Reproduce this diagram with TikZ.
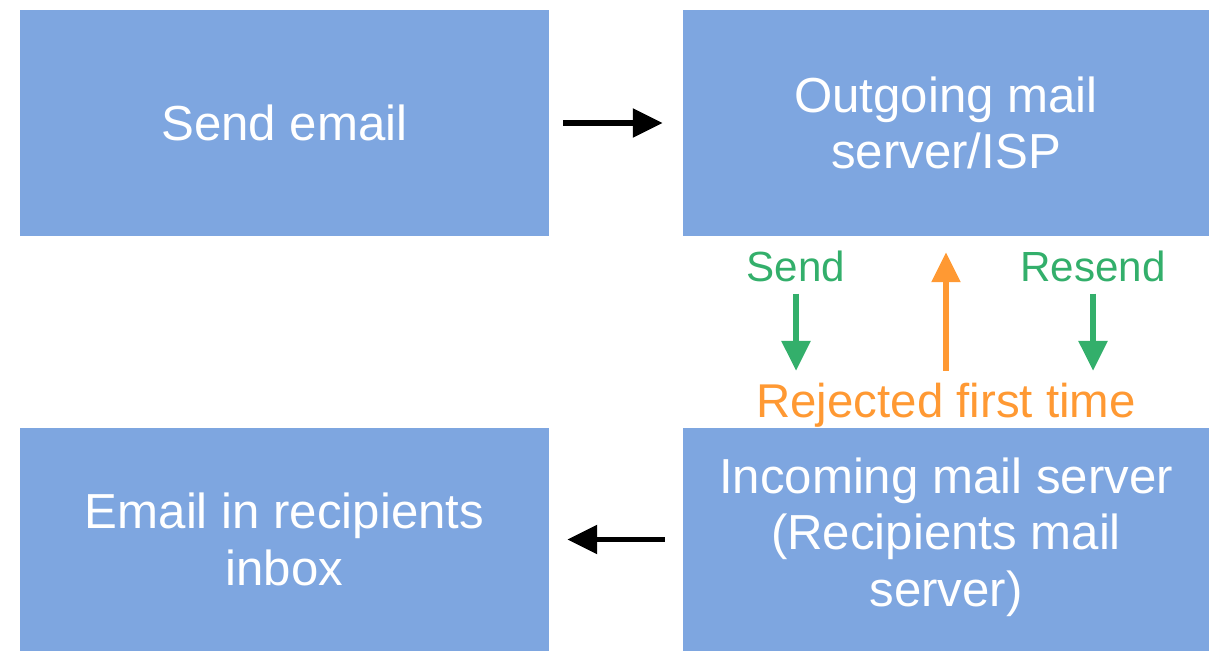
\documentclass[tikz,border=0pt]{standalone}
\usepackage{fontspec}
\setmainfont{Liberation Sans}
\usetikzlibrary{arrows.meta}

\definecolor{boxblue}{HTML}{7EA6E0}
\definecolor{sendgreen}{HTML}{33AF6B}
\definecolor{rejorange}{HTML}{FF9933}

\begin{document}
\begin{tikzpicture}[x=0.02cm, y=-0.02cm,
  box/.style={fill=boxblue, draw=none, text=white, align=center, inner sep=0pt,
    font=\fontsize{28}{32}\selectfont},
  lbl/.style={font=\fontsize{24}{28}\selectfont, inner sep=1pt},
  flow/.style={line width=3pt, -{Triangle[width=16pt,length=17pt]}}]

\useasboundingbox (0,0) rectangle (1209,651);

\node[box, minimum width=10.58cm, minimum height=4.52cm] (send) at (284.5,123) {Send email};
\node[box, minimum width=10.52cm, minimum height=4.52cm] (outgoing) at (946,123) {Outgoing mail\\server/ISP};
\node[box, minimum width=10.58cm, minimum height=4.46cm] (inbox) at (284.5,539.5) {Email in recipients\\inbox};
\node[box, minimum width=10.52cm, minimum height=4.46cm, text depth=0.3cm] (incoming) at (946,539.5) {Incoming mail server\\(Recipients mail\\server)};

\node[lbl, text=sendgreen] (sendlbl) at (796,266) {Send};
\node[lbl, text=sendgreen] (resendlbl) at (1093,266) {Resend};
\node[lbl, text=rejorange, font=\fontsize{27}{30}\selectfont] (rejected) at (946,405) {Rejected first time};

% -------- arrows -----------
\draw[flow, shorten <=0.28cm, shorten >=0.4cm] (send.east) -- (outgoing.west);
\draw[flow, shorten <=0.36cm, shorten >=0.36cm] (incoming.west) -- (inbox.east);

\draw[flow, sendgreen, shorten <=0.2cm, shorten >=0.2cm] (sendlbl.south) -- (sendlbl.south |- rejected.north);
\draw[flow, sendgreen, shorten <=0.2cm, shorten >=0.2cm] (resendlbl.south) -- (resendlbl.south |- rejected.north);
\draw[flow, rejorange, shorten <=0.2cm, shorten >=0.32cm] (rejected.north) -- (outgoing.south);
\end{tikzpicture}
\end{document}
